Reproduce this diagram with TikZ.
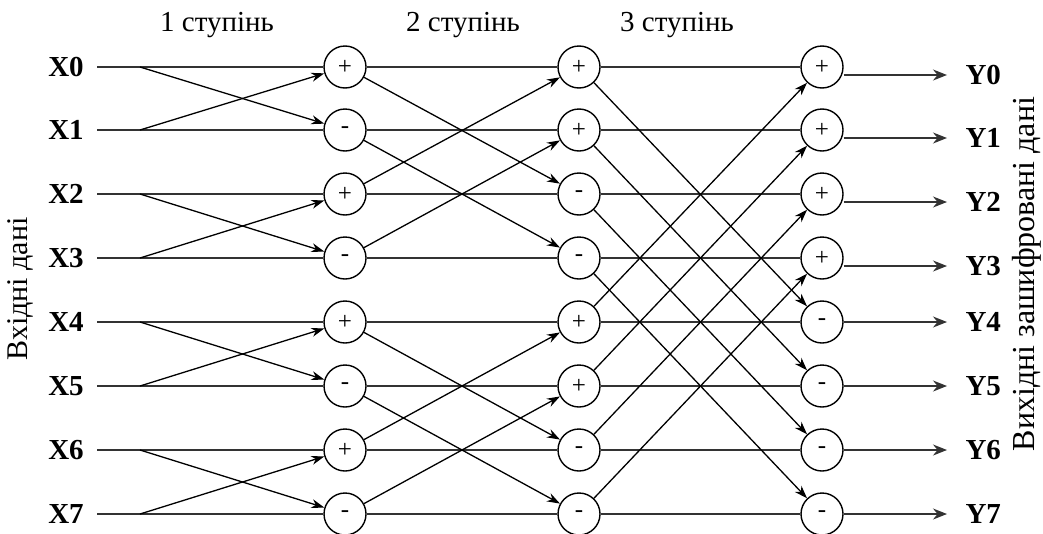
\documentclass[tikz,border=0pt]{standalone}
\usepackage{fontspec}
\setmainfont{Liberation Serif}
\usetikzlibrary{arrows.meta,calc}
\begin{document}
\begin{tikzpicture}[x=1pt,y=-1pt,
  sum/.style={circle, draw, line width=1.4pt, minimum size=42pt, inner sep=0pt, font=\fontsize{25}{25}\selectfont},
  lbl/.style={font=\fontsize{29}{29}\selectfont\bfseries},
  ttl/.style={font=\fontsize{29}{29}\selectfont},
  hline/.style={line width=1.3pt, black!80},
  diag/.style={line width=1.3pt, -{Stealth[length=13pt,width=9pt]}},
  outarrow/.style={line width=1.3pt, black!80, -{Stealth[length=14pt,width=11pt]}}]
\useasboundingbox (0,0) rectangle (1043,533);

\node[ttl] (t1) at (217,25) {1 ступінь};
\node[ttl] (t2) at (463,25) {2 ступінь};
\node[ttl] (t3) at (677,25) {3 ступінь};

\node[ttl, font=\fontsize{30}{30}\selectfont, rotate=90] (inlbl) at (20,289) {Вхідні дані};
\node[ttl, font=\fontsize{32}{32}\selectfont, rotate=90] (outlbl) at (1027,274) {Вихідні зашифровані дані};

\foreach \i/\y/\sa/\sb/\sc/\dy in {0/67/+/+/+/8, 1/130/-/+/+/8, 2/194/+/-/+/8, 3/258/-/-/+/8,
                                   4/322/+/+/-/0, 5/386/-/+/-/0, 6/450/+/-/-/0, 7/514/-/-/-/0}{
  \node[lbl] (x\i) at (66,\y) {X\i};
  \coordinate (a\i) at (97,\y);
  \coordinate (b\i) at (140,\y);
  \node[sum] (c1-\i) at (345,\y) {\sa};
  \node[sum] (c2-\i) at (579,\y) {\sb};
  \node[sum] (c3-\i) at (822,\y) {\sc};
  \coordinate (o\i) at (947,\y+\dy);
  \node[lbl, anchor=west] (y\i) at (962,\y+\dy) {Y\i};
}

% horizontal lines
\foreach \i in {0,...,7}{
  \draw[hline] (a\i) -- (c1-\i);
  \draw[hline] (c1-\i) -- (c2-\i);
  \draw[hline] (c2-\i) -- (c3-\i);
  \draw[outarrow] (c3-\i.east |- o\i) -- (o\i);
}

% stage 1 butterflies
\foreach \p/\q in {0/1,1/0,2/3,3/2,4/5,5/4,6/7,7/6}{
  \draw[diag] (b\p) -- (c1-\q);
}
% stage 2 butterflies
\foreach \p/\q in {0/2,2/0,1/3,3/1,4/6,6/4,5/7,7/5}{
  \draw[diag] (c1-\p) -- (c2-\q);
}
% stage 3 butterflies
\foreach \p/\q in {0/4,4/0,1/5,5/1,2/6,6/2,3/7,7/3}{
  \draw[diag] (c2-\p) -- (c3-\q);
}
\end{tikzpicture}
\end{document}
